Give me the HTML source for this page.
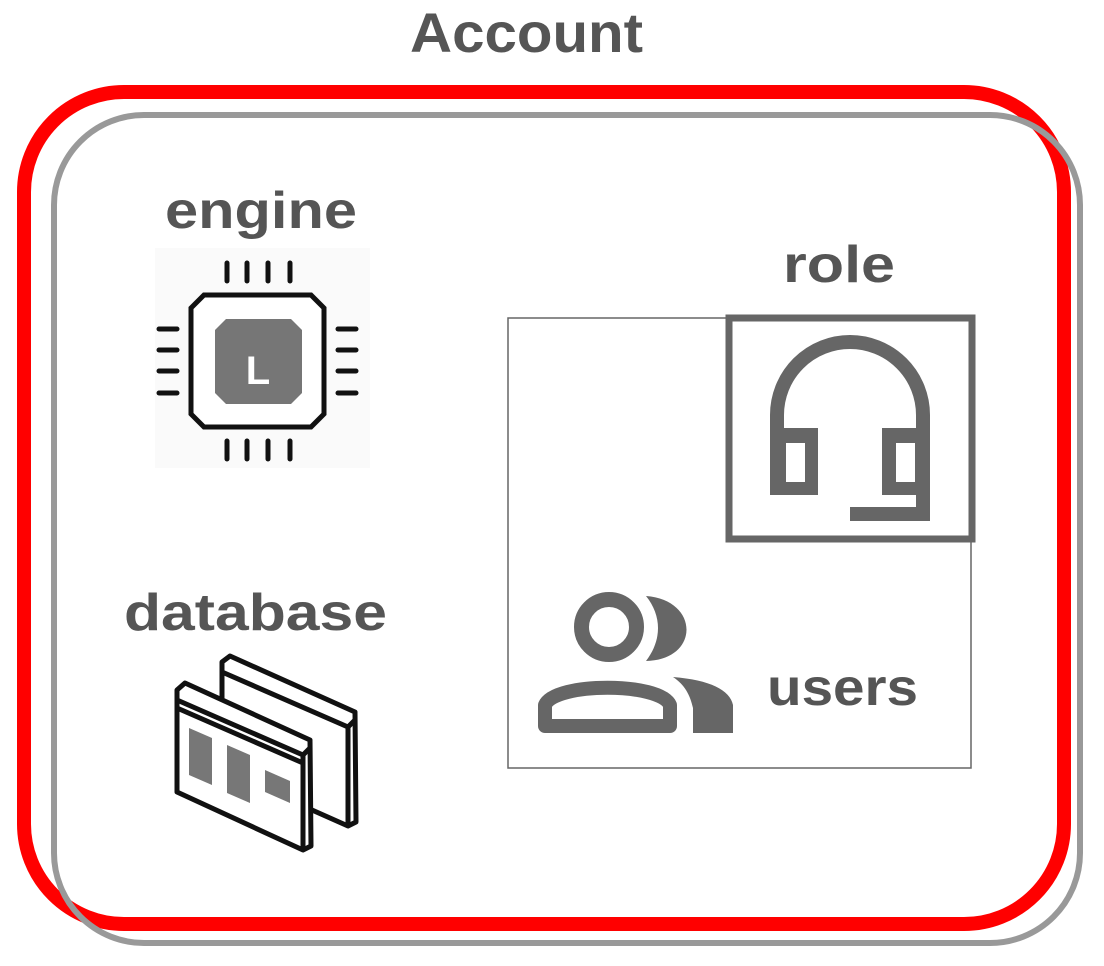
<!DOCTYPE html>
<html><head><meta charset="utf-8"><style>
html,body{margin:0;padding:0;background:#fff;}
svg{display:block}
text{font-family:"Liberation Sans",sans-serif;font-weight:bold;fill:#555;}
</style></head><body>
<svg width="1104" height="966" viewBox="0 0 1104 966" xmlns="http://www.w3.org/2000/svg">
<rect x="24" y="92" width="1040" height="832" rx="100" fill="none" stroke="#f00" stroke-width="14"/>
<rect x="54" y="115" width="1026" height="828" rx="90" fill="none" stroke="#999" stroke-width="6"/>
<text x="410" y="52" font-size="56" textLength="233" lengthAdjust="spacingAndGlyphs">Account</text>
<text x="165" y="228" font-size="52" textLength="192" lengthAdjust="spacingAndGlyphs">engine</text>
<text x="124" y="630" font-size="52" textLength="263" lengthAdjust="spacingAndGlyphs">database</text>
<text x="783" y="282" font-size="52" textLength="112" lengthAdjust="spacingAndGlyphs">role</text>
<text x="767" y="705" font-size="52" textLength="151" lengthAdjust="spacingAndGlyphs">users</text>
<!-- chip -->
<rect x="155" y="248" width="215" height="220" fill="#fafafa"/>
<polygon points="204,295 311,295 324,308 324,414 311,427 204,427 191,414 191,308" fill="#fff" stroke="#111" stroke-width="5"/>
<polygon points="226,319 291,319 302,330 302,393 291,404 226,404 215,393 215,330" fill="#767676"/>
<text x="258" y="384" font-size="40" text-anchor="middle" style="fill:#fff">L</text>
<g stroke="#111" stroke-width="5" stroke-linecap="round">
<line x1="227" y1="263" x2="227" y2="281"/><line x1="247" y1="263" x2="247" y2="281"/><line x1="268" y1="263" x2="268" y2="281"/><line x1="290" y1="263" x2="290" y2="281"/>
<line x1="227" y1="441" x2="227" y2="459"/><line x1="247" y1="441" x2="247" y2="459"/><line x1="268" y1="441" x2="268" y2="459"/><line x1="290" y1="441" x2="290" y2="459"/>
<line x1="159" y1="329" x2="177" y2="329"/><line x1="159" y1="350" x2="177" y2="350"/><line x1="159" y1="371" x2="177" y2="371"/><line x1="159" y1="393" x2="177" y2="393"/>
<line x1="338" y1="329" x2="356" y2="329"/><line x1="338" y1="350" x2="356" y2="350"/><line x1="338" y1="371" x2="356" y2="371"/><line x1="338" y1="393" x2="356" y2="393"/>
</g>
<!-- database -->
<g stroke="#111" stroke-width="5" stroke-linejoin="round" fill="#fff">
<polygon points="222,662 230,656 355,712 356,822 348,826 222,770"/>
<polyline points="222,672 348,727 355,720" fill="none"/>
<line x1="348" y1="727" x2="348" y2="826"/>
<polygon points="177,690 185,683 310,740 311,846 303,850 177,792"/>
<polyline points="177,700 303,755 310,748" fill="none"/>
<polyline points="177,708 303,763" fill="none"/>
<line x1="303" y1="755" x2="303" y2="850"/>
</g>
<polygon points="189,728 212,738 212,785 189,775" fill="#777"/>
<polygon points="227,745 250,755 250,803 227,793" fill="#777"/>
<polygon points="265,770 290,781 290,803 265,792" fill="#777"/>
<!-- users box -->
<rect x="508" y="318" width="463" height="450" fill="none" stroke="#666" stroke-width="1.5"/>
<rect x="729" y="318" width="243" height="221" fill="#fff" stroke="#666" stroke-width="7"/>
<!-- headset -->
<path d="M777,435 L777,415 A73,73 0 0 1 923,415 L923,500" fill="none" stroke="#666" stroke-width="14"/>
<path d="M770,428 H818 V495 H770 Z M786,443 V482 H805 V443 Z" fill="#666" fill-rule="evenodd"/>
<path d="M882,428 H930 V495 H882 Z M896,443 V482 H915 V443 Z" fill="#666" fill-rule="evenodd"/>
<path d="M923,490 V514 H850" fill="none" stroke="#666" stroke-width="14"/>
<!-- users icon -->
<circle cx="609" cy="627" r="27.5" fill="none" stroke="#666" stroke-width="15"/>
<path d="M646,596 C700,600 700,660 646,661 C662,640 662,616 646,596 Z" fill="#666"/>
<path d="M545,726 V705 C555,682 660,682 670,705 V726 Z" fill="none" stroke="#666" stroke-width="14" stroke-linejoin="round"/>
<path d="M673,677 C710,680 730,690 733,705 V733 H693 V708 C690,695 685,685 673,677 Z" fill="#666"/>
</svg>
</body></html>
